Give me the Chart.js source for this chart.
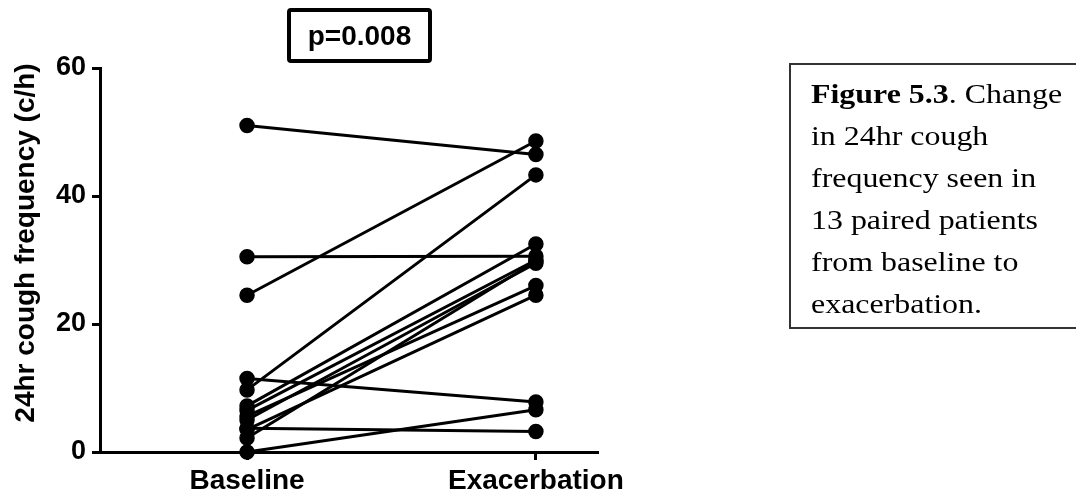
<!DOCTYPE html>
<html>
<head>
<meta charset="utf-8">
<script src="https://cdn.jsdelivr.net/npm/chart.js@4"></script>
<style>
  html, body { margin: 0; padding: 0; background: #fff; }
  #wrap { position: relative; width: 1076px; height: 500px; overflow: hidden; }
  #c { position: absolute; left: 0; top: 0; }
  #pbox {
    position: absolute; left: 287px; top: 8px; width: 137px; height: 47px;
    border: 4px solid #000; border-radius: 4px;
    display: flex; align-items: center; justify-content: center;
    font-family: "Liberation Sans", Arial, sans-serif; font-weight: bold; font-size: 28px; color: #000;
  }
  #caption {
    position: absolute; left: 789px; top: 63px; width: 300px; height: 266px;
    border: 2px solid #333; box-sizing: border-box;
  }
  #captext {
    position: absolute; left: 20px; top: 8px; white-space: nowrap;
    font-family: "Liberation Serif", "Times New Roman", serif; font-size: 28px; line-height: 42px; color: #000;
    transform: scaleX(1.14); transform-origin: left top;
  }
</style>
</head>
<body>
<div id="wrap">
  <canvas id="c" width="1076" height="500"></canvas>
  <div id="pbox">p=0.008</div>
  <div id="caption"><div id="captext"><b>Figure 5.3</b>. Change<br>in 24hr cough<br>frequency seen in<br>13 paired patients<br>from baseline to<br>exacerbation.</div></div>
</div>
<script>
const categories = ['Baseline', 'Exacerbation'];
const baseline =     [51.0, 30.5, 24.5, 11.5, 9.7, 7.2, 6.5, 5.6, 5.0, 3.7, 3.5, 2.2, 0.0];
const exacerbation = [46.5, 30.6, 48.6, 7.8, 43.3, 32.5, 30.0, 26.0, 29.5, 3.2, 24.5, 29.8, 6.6];
const yTicks = [0, 20, 40, 60];
const yTitle = '24hr cough frequency (c/h)';

const FONT = '"Liberation Sans", Arial, sans-serif';

const datasets = baseline.map((b, i) => ({
  data: [{ x: 0, y: b }, { x: 1, y: exacerbation[i] }],
  showLine: true,
  borderColor: '#000',
  backgroundColor: '#000',
  borderWidth: 3,
  pointRadius: 7,
  pointBorderWidth: 1.5,
  pointBackgroundColor: '#000',
  pointBorderColor: '#000',
  clip: false
}));

const yTitlePlugin = {
  id: 'yTitlePlugin',
  afterDraw(chart) {
    const ctx = chart.ctx;
    ctx.save();
    ctx.translate(26, 243);
    ctx.rotate(-Math.PI / 2);
    ctx.font = 'bold 28px ' + FONT;
    ctx.fillStyle = '#000';
    ctx.textAlign = 'center';
    ctx.textBaseline = 'middle';
    ctx.fillText(yTitle, 0, 0);
    ctx.restore();
  }
};

new Chart(document.getElementById('c'), {
  type: 'scatter',
  data: { datasets },
  plugins: [yTitlePlugin],
  options: {
    responsive: false,
    animation: false,
    devicePixelRatio: 1,
    layout: { padding: { left: 0, top: 68, right: 478, bottom: 0 } },
    plugins: { legend: { display: false }, tooltip: { enabled: false }, title: { display: false } },
    scales: {
      x: {
        type: 'linear',
        min: -0.509,
        max: 1.215,
        afterFit(scale) { scale.height = 48; },
        afterBuildTicks(scale) { scale.ticks = categories.map((c, i) => ({ value: i })); },
        ticks: {
          autoSkip: false,
          maxRotation: 0,
          padding: 4,
          color: '#000',
          font: { family: FONT, size: 28, weight: 'bold' },
          callback: (v) => categories[v]
        },
        grid: { display: true, drawOnChartArea: false, drawTicks: true, tickLength: 8, tickWidth: 3, tickColor: '#000' },
        border: { display: true, color: '#000', width: 3 }
      },
      y: {
        min: 0,
        max: 60,
        afterFit(scale) { scale.width = 100; },
        afterBuildTicks(scale) { scale.ticks = yTicks.map(v => ({ value: v })); },
        ticks: {
          padding: 6,
          color: '#000',
          font: { family: FONT, size: 27, weight: 'bold' },
          callback: (v) => String(v)
        },
        grid: { display: true, drawOnChartArea: false, drawTicks: true, tickLength: 8, tickWidth: 3, tickColor: '#000' },
        border: { display: true, color: '#000', width: 3 }
      }
    }
  }
});
</script>
</body>
</html>
